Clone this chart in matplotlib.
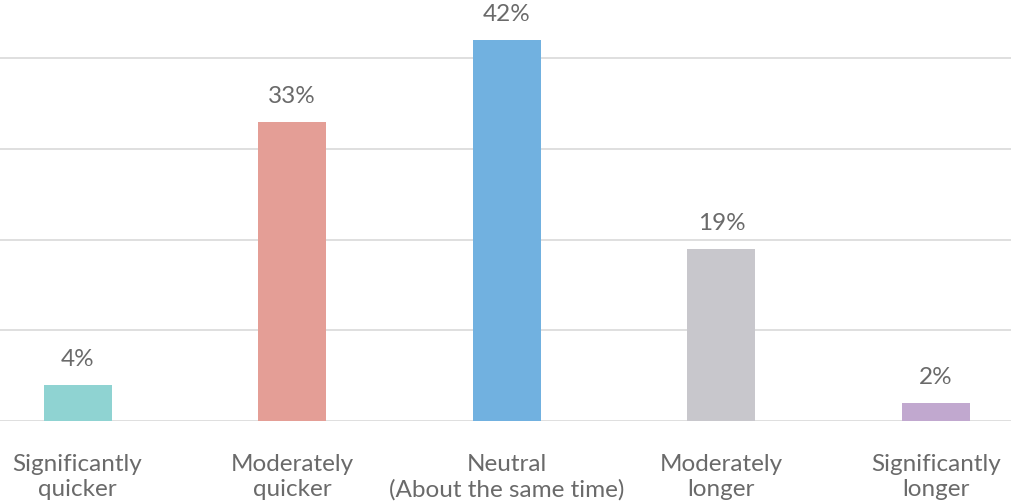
import matplotlib
matplotlib.use("Agg")
import matplotlib.pyplot as plt
import numpy as np

categories = ["Significantly\nquicker", "Moderately\nquicker", "Neutral\n(About the same time)",
              "Moderately\nlonger", "Significantly\nlonger"]
values = [4, 33, 42, 19, 2]
labels = ["4%", "33%", "42%", "19%", "2%"]
colors = ["#8fd3d2", "#e49e96", "#71b1e0", "#c8c7cc", "#c1a8cf"]

plt.rcParams['font.family'] = ['Lato', 'DejaVu Sans']
text_color = "#6a6a6a"

fig = plt.figure(figsize=(10.11, 5.04), dpi=100)
ax = fig.add_axes([0.0, 83 / 504, 1.0, 421 / 504])

x = np.arange(len(categories))
ax.bar(x, values, width=0.317, color=colors, zorder=3)

ax.set_xlim(-0.3616, 4.3495)
ax.set_ylim(0, 46.4)
ax.set_yticks([0, 10, 20, 30, 40])
ax.yaxis.grid(True, color="#dcdcdc", linewidth=1.3, zorder=0)
ax.tick_params(axis='y', left=False, labelleft=False)
for s in ax.spines.values():
    s.set_visible(False)

ax.set_xticks(x)
ax.set_xticklabels(categories, fontsize=17.5, fontweight='normal', color=text_color, linespacing=1.2)
ax.tick_params(axis='x', length=0, pad=24)

for xi, v, lab in zip(x, values, labels):
    ax.annotate(lab, (xi, v), xytext=(0, 13.7), textcoords='offset points',
                ha='center', va='baseline', fontsize=17.5, fontweight='normal', color=text_color)

fig.savefig("out.png", dpi=100)
